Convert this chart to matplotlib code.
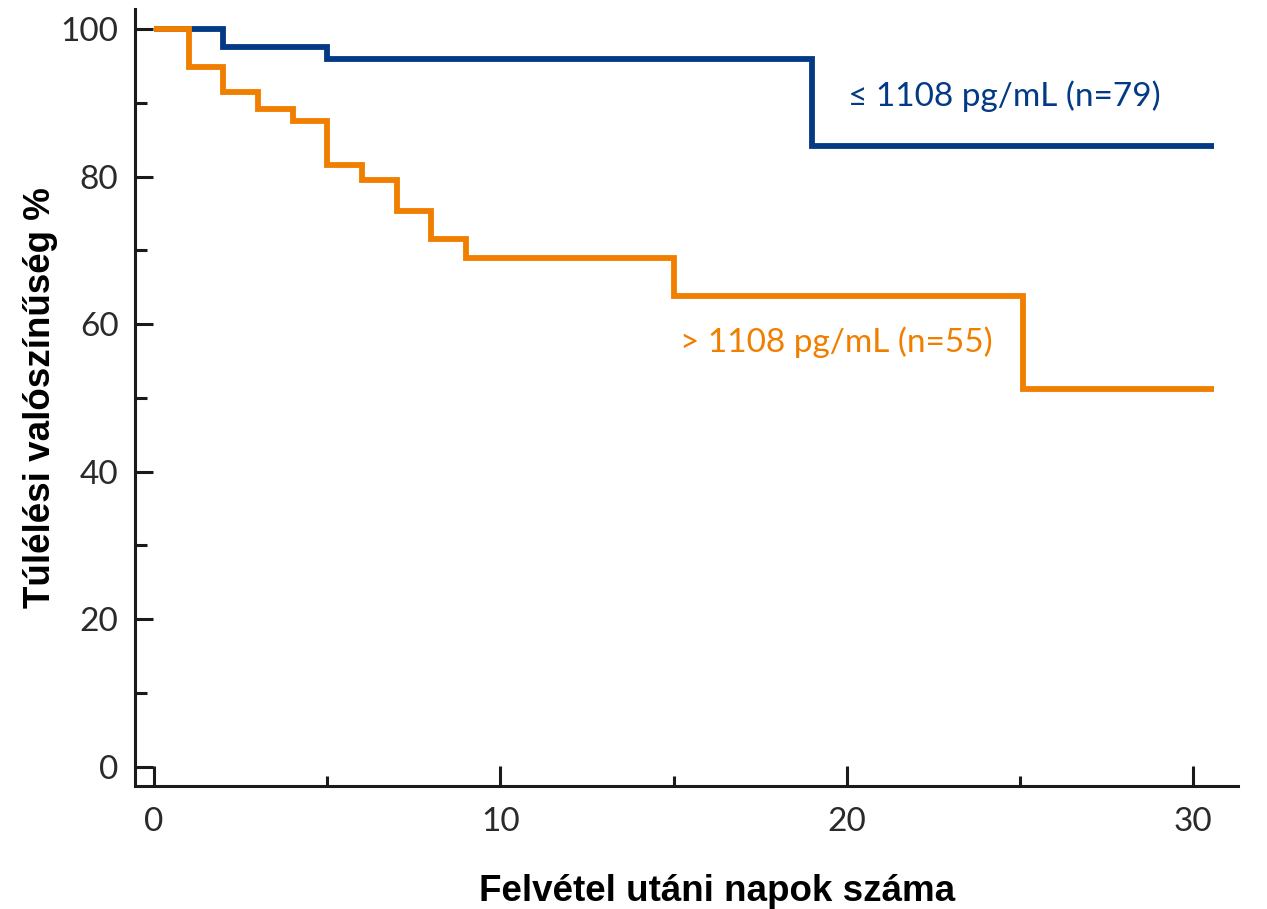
import matplotlib
matplotlib.use("Agg")
import matplotlib.pyplot as plt
from matplotlib.ticker import MultipleLocator

# survival curves (days, percent)
low_days = [0, 2, 5, 19, 30.6]
low_surv = [100, 97.6, 96.0, 84.1, 84.1]
high_days = [0, 1, 2, 3, 4, 5, 6, 7, 8, 9, 15, 25.1, 30.6]
high_surv = [100, 94.8, 91.4, 89.2, 87.6, 81.6, 79.5, 75.3, 71.5, 69.0, 63.8, 51.2, 51.2]

low_label = "≤ 1108 pg/mL (n=79)"
high_label = "> 1108 pg/mL (n=55)"
xlabel = "Felvétel utáni napok száma"
ylabel = "Túlélési valószínűség %"

blue = "#043a85"
orange = "#f07f00"
ink = "#1a1a1a"
light_font = ["Liberation Sans Narrow", "Lato", "DejaVu Sans"]

fig = plt.figure(figsize=(12.67, 9.09), dpi=100)
ax = fig.add_axes([0.1066, 0.1353, 0.8705, 0.8547])

ax.step(low_days, low_surv, where="post", color=blue, lw=4.2,
        solid_joinstyle="miter", solid_capstyle="butt", zorder=3)
ax.step(high_days, high_surv, where="post", color=orange, lw=4.2,
        solid_joinstyle="miter", solid_capstyle="butt", zorder=3)

ax.text(20.05, 90.9, low_label, color=blue, fontsize=24, va="center",
        ha="left", family=light_font)
ax.text(15.2, 57.5, high_label, color=orange, fontsize=24, va="center",
        ha="left", family=light_font)

ax.set_xlim(-0.55, 31.3)
ax.set_ylim(-2.6, 102.7)

ax.spines["top"].set_visible(False)
ax.spines["right"].set_visible(False)
for s in ("left", "bottom"):
    ax.spines[s].set_linewidth(2.2)
    ax.spines[s].set_color(ink)

ax.xaxis.set_major_locator(MultipleLocator(10))
ax.xaxis.set_minor_locator(MultipleLocator(5))
ax.yaxis.set_major_locator(MultipleLocator(20))
ax.yaxis.set_minor_locator(MultipleLocator(10))

ax.tick_params(axis="both", which="both", direction="in", color=ink, width=2.2)
ax.tick_params(axis="x", which="major", length=14.5, pad=15)
ax.tick_params(axis="x", which="minor", length=7)
ax.tick_params(axis="y", which="major", length=13, pad=12)
ax.tick_params(axis="y", which="minor", length=8.5)

for lab in ax.get_xticklabels() + ax.get_yticklabels():
    lab.set_family(light_font)
    lab.set_fontsize(24)
    lab.set_color("#2a2a2a")

ax.set_xlabel(xlabel, fontsize=26.5, fontweight="bold", family="Liberation Sans", labelpad=27)
ax.xaxis.label.set_x(0.528)
ax.set_ylabel(ylabel, fontsize=26.5, fontweight="bold", family="Liberation Sans", labelpad=2)

fig.savefig("out.png", dpi=100)
